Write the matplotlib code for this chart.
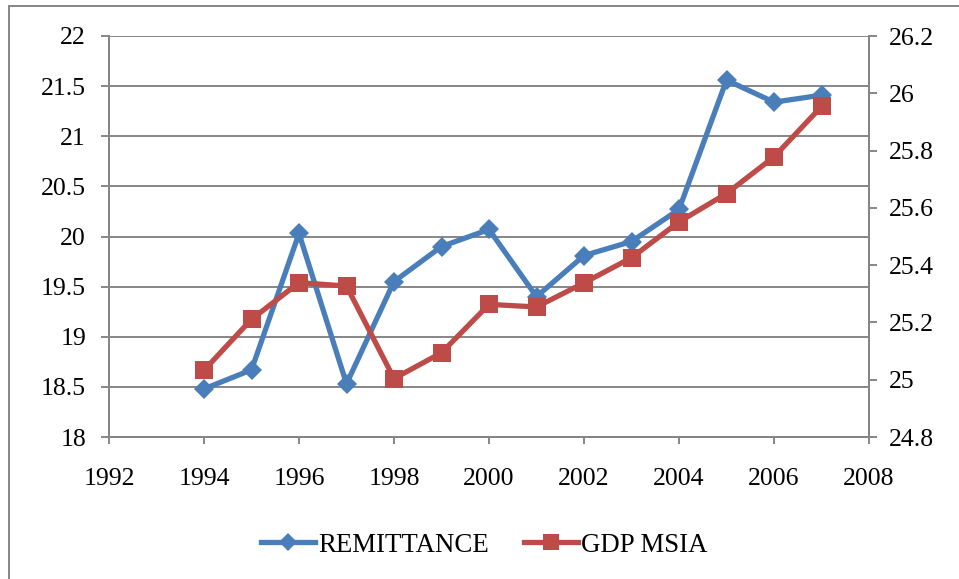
import matplotlib
matplotlib.use("Agg")
import matplotlib.pyplot as plt
from matplotlib.patches import Rectangle

years = [1994, 1995, 1996, 1997, 1998, 1999, 2000, 2001, 2002, 2003, 2004, 2005, 2006, 2007]
remittance = [18.48, 18.67, 20.03, 18.53, 19.55, 19.90, 20.07, 19.40, 19.81, 19.95, 20.27, 21.56, 21.34, 21.41]
gdp_msia = [25.033, 25.211, 25.339, 25.327, 25.004, 25.094, 25.263, 25.254, 25.338, 25.426, 25.551, 25.650, 25.778, 25.954]
x_ticks = [1992, 1994, 1996, 1998, 2000, 2002, 2004, 2006, 2008]
left_ticks = [18, 18.5, 19, 19.5, 20, 20.5, 21, 21.5, 22]
left_labels = ["18", "18.5", "19", "19.5", "20", "20.5", "21", "21.5", "22"]
right_ticks = [24.8, 25.0, 25.2, 25.4, 25.6, 25.8, 26.0, 26.2]
right_labels = ["24.8", "25", "25.2", "25.4", "25.6", "25.8", "26", "26.2"]
series_names = ["REMITTANCE", "GDP MSIA"]

BLUE = "#4A7EBB"
RED = "#BE4B48"
GRID = "#868686"
FONT = "Liberation Serif"
FS = 18.5

plt.rcParams['font.family'] = [FONT, 'DejaVu Serif']

fig = plt.figure(figsize=(9.59, 5.79), dpi=100)
ax = fig.add_axes([109/959, 1 - 437/579, (869 - 109)/959, (437 - 36)/579])
ax2 = ax.twinx()

ax.set_xlim(1992, 2008)
ax.set_ylim(18, 22)
ax2.set_ylim(24.8, 26.2)

ax.set_xticks(x_ticks)
ax.set_xticklabels([str(v) for v in x_ticks])
ax.set_yticks(left_ticks)
ax.set_yticklabels(left_labels)
ax2.set_yticks(right_ticks)
ax2.set_yticklabels(right_labels)

ax.yaxis.grid(True, color=GRID, linewidth=1.4)
ax.set_axisbelow(True)

for a in (ax, ax2):
    for s in a.spines.values():
        s.set_color(GRID)
        s.set_linewidth(1.4)
    a.spines['top'].set_visible(False)

ax.tick_params(axis='y', direction='out', length=5.5, width=1.4, color=GRID, pad=11, labelsize=FS)
ax.tick_params(axis='x', direction='out', length=5, width=1.4, color=GRID, pad=17, labelsize=FS)
ax2.tick_params(axis='y', direction='out', length=5.5, width=1.4, color=GRID, pad=9, labelsize=FS)

l1, = ax.plot(years, remittance, color=BLUE, linewidth=3.8, marker='D', markersize=10.5,
              markeredgewidth=0, label=series_names[0], zorder=3)
l2, = ax2.plot(years, gdp_msia, color=RED, linewidth=3.8, marker='s', markersize=13,
               markeredgewidth=0, label=series_names[1], zorder=3)

leg = fig.legend([l1, l2], series_names, loc='center', bbox_to_anchor=(0.505, 1 - 545/579),
                 ncol=2, frameon=False, fontsize=19.4, handlelength=2.0, handletextpad=0.12,
                 columnspacing=1.3, markerscale=0.85)

# outer chart border
fig.patches.append(Rectangle((8.5/959, -0.1), 1.2, 1 - 6.5/579 + 0.1, transform=fig.transFigure,
                             fill=False, edgecolor=GRID, linewidth=1.4))

fig.savefig("out.png", dpi=100)
